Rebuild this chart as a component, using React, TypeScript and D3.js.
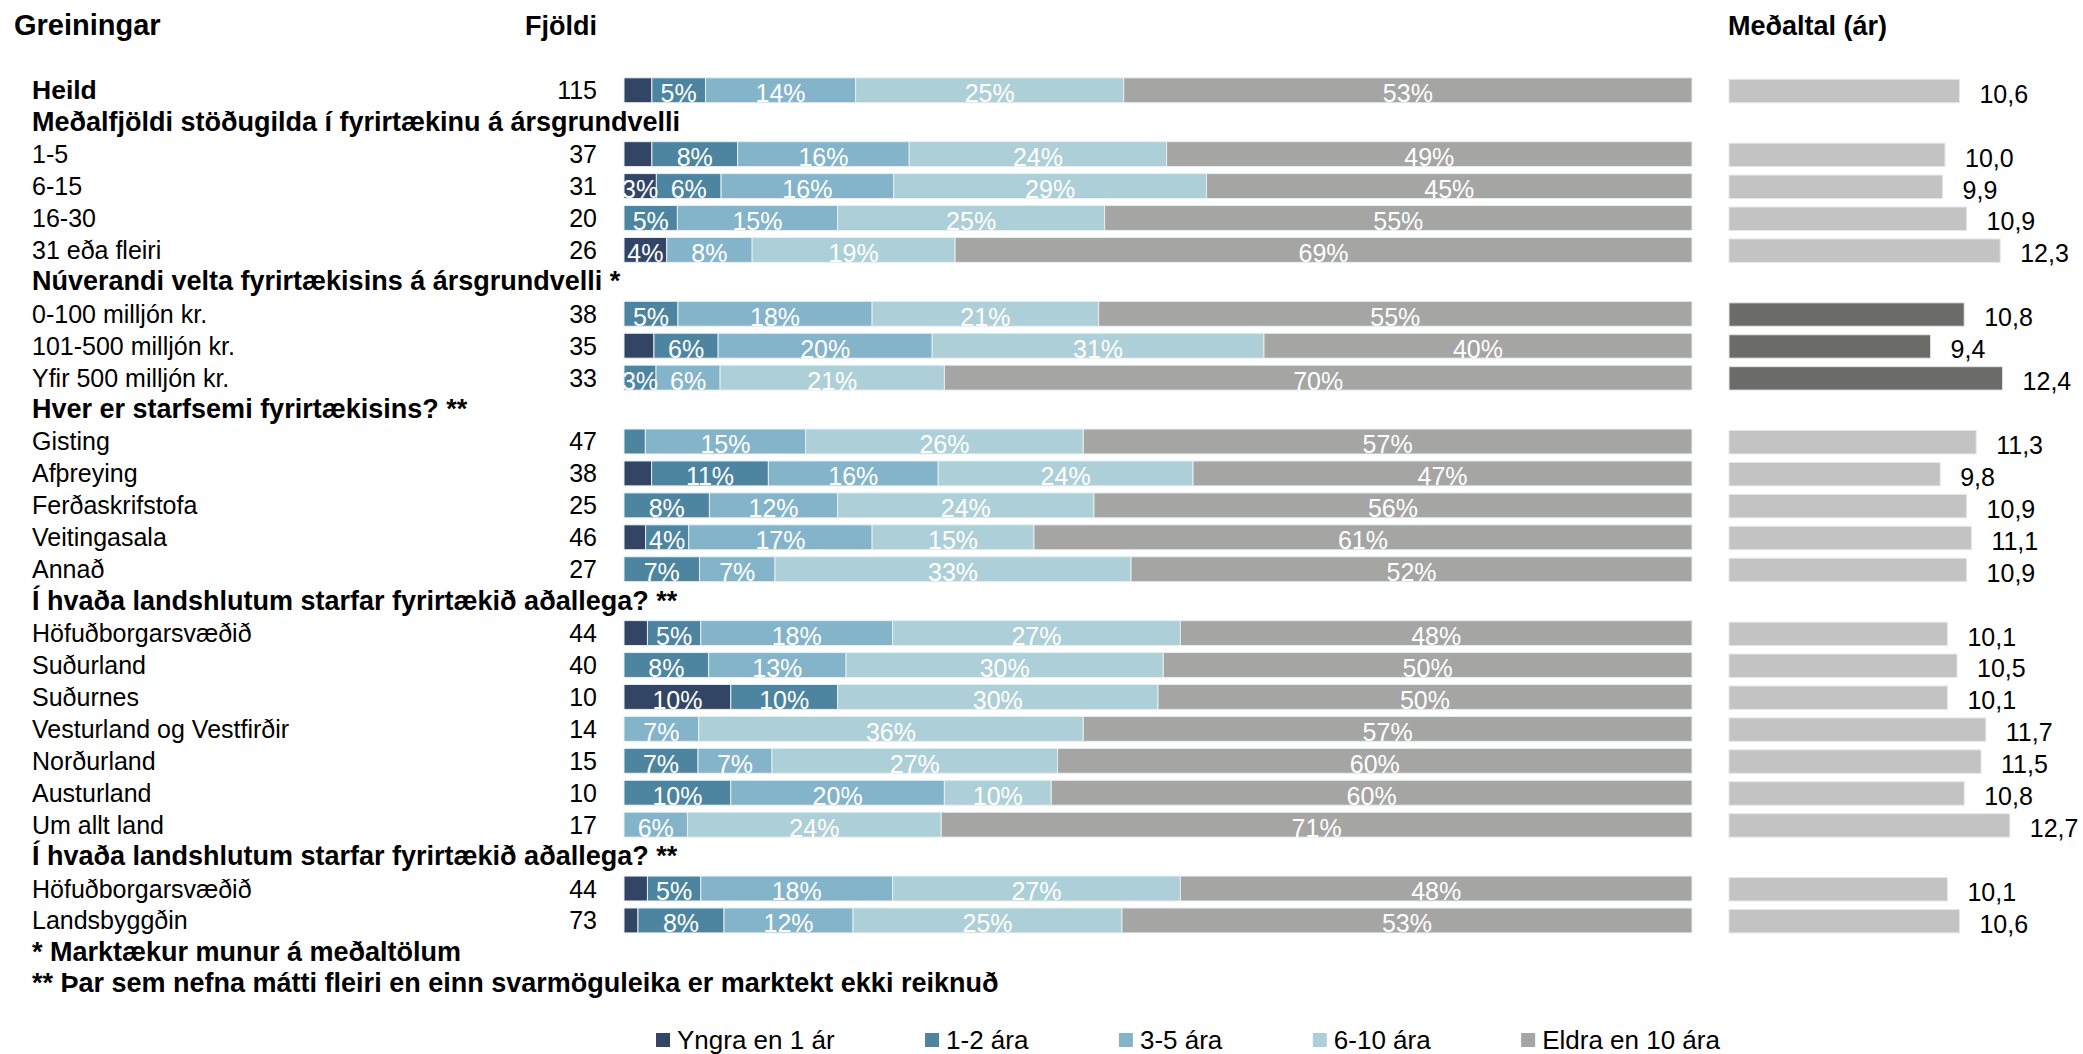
import React from 'react';
import * as d3 from 'd3';

const categories = ['Heild', '1-5', '6-15', '16-30', '31 eða fleiri', '0-100 milljón kr.', '101-500 milljón kr.', 'Yfir 500 milljón kr.', 'Gisting', 'Afþreying', 'Ferðaskrifstofa', 'Veitingasala', 'Annað', 'Höfuðborgarsvæðið', 'Suðurland', 'Suðurnes', 'Vesturland og Vestfirðir', 'Norðurland', 'Austurland', 'Um allt land', 'Höfuðborgarsvæðið', 'Landsbyggðin'];
const counts = [115, 37, 31, 20, 26, 38, 35, 33, 47, 38, 25, 46, 27, 44, 40, 10, 14, 15, 10, 17, 44, 73];
const yngra = [2.6, 2.6, 3, 0, 4, 0, 2.8, 0, 0, 2.6, 0, 2, 0, 2.2, 0, 10, 0, 0, 0, 0, 2.2, 1.3];
const ara12 = [5, 8, 6, 5, 0, 5, 6, 3, 2, 11, 8, 4, 7, 5, 8, 10, 0, 7, 10, 0, 5, 8];
const ara35 = [14, 16, 16, 15, 8, 18, 20, 6, 15, 16, 12, 17, 7, 18, 13, 0, 7, 7, 20, 6, 18, 12];
const ara610 = [25, 24, 29, 25, 19, 21, 31, 21, 26, 24, 24, 15, 33, 27, 30, 30, 36, 27, 10, 24, 27, 25];
const eldra = [53, 49, 45, 55, 69, 55, 40, 70, 57, 47, 56, 61, 52, 48, 50, 50, 57, 60, 60, 71, 48, 53];
const averages = [10.6, 10.0, 9.9, 10.9, 12.3, 10.8, 9.4, 12.4, 11.3, 9.8, 10.9, 11.1, 10.9, 10.1, 10.5, 10.1, 11.7, 11.5, 10.8, 12.7, 10.1, 10.6];
const groupHeaders = ['Meðalfjöldi stöðugilda í fyrirtækinu á ársgrundvelli', 'Núverandi velta fyrirtækisins á ársgrundvelli *', 'Hver er starfsemi fyrirtækisins? **', 'Í hvaða landshlutum starfar fyrirtækið aðallega? **', 'Í hvaða landshlutum starfar fyrirtækið aðallega? **'];
const groupSizes = [4, 3, 5, 7, 2];
const significantGroup = 1;
const seriesNames = ['Yngra en 1 ár', '1-2 ára', '3-5 ára', '6-10 ára', 'Eldra en 10 ára'];
const seriesColors = ['#324565', '#4d85a0', '#84b4ca', '#adcfd7', '#a5a5a4'];
const avgColor = '#c3c3c3';
const avgSigColor = '#6b6b69';
const footnotes = ['* Marktækur munur á meðaltölum', '** Þar sem nefna mátti fleiri en einn svarmöguleika er marktekt ekki reiknuð'];
const titles = { left: 'Greiningar', count: 'Fjöldi', avg: 'Meðaltal (ár)' };

const FONT = "'Liberation Sans', Arial, sans-serif";
const W = 2083;
const H = 1054;

type Row = { kind: 'cat'; idx: number } | { kind: 'head'; text: string };

function buildRows(): Row[] {
  const rows: Row[] = [{ kind: 'cat', idx: 0 }];
  let c = 1;
  groupSizes.forEach((n, g) => {
    rows.push({ kind: 'head', text: groupHeaders[g] });
    for (let k = 0; k < n; k++) rows.push({ kind: 'cat', idx: c++ });
  });
  return rows;
}

function measure(text: string, font: string) {
  const cv = document.createElement('canvas');
  const ctx = cv.getContext('2d')!;
  ctx.font = font;
  return ctx.measureText(text).width;
}

function groupOf(idx: number) {
  let c = 1;
  for (let g = 0; g < groupSizes.length; g++) {
    if (idx >= c && idx < c + groupSizes[g]) return g;
    c += groupSizes[g];
  }
  return -1;
}

export default function App() {
  const rows = buildRows();
  const nSlots = rows.length + footnotes.length;
  const step = 31.93;
  const y = d3
    .scaleBand<number>()
    .domain(d3.range(nSlots))
    .range([74.3, 74.3 + nSlots * step])
    .paddingInner(0.22)
    .paddingOuter(0.11);
  const bw = y.bandwidth();

  const x = d3.scaleLinear().domain([0, 1]).range([624, 1692]);
  const xa = d3.scaleLinear().domain([1, 13]).range([1729, 2017]);

  const table = categories.map((_, i) => ({
    s0: yngra[i],
    s1: ara12[i],
    s2: ara35[i],
    s3: ara610[i],
    s4: eldra[i],
  }));
  const keys = ['s0', 's1', 's2', 's3', 's4'];
  const stack = d3.stack<any>().keys(keys).offset(d3.stackOffsetExpand)(table);

  const fs = 25;
  const boldFs = 27;
  const legendFs = 26;
  const legendFont = `${legendFs}px ${FONT}`;
  let lx = 656;
  const legendItems = seriesNames.map((name, i) => {
    const item = { name, color: seriesColors[i], x: lx };
    lx += 14 + 7 + measure(name, legendFont) + 90.5;
    return item;
  });

  return (
    <svg width={W} height={H} style={{ position: 'fixed', left: 0, top: 0, background: '#fff' }} fontFamily={FONT}>
      <rect width={W} height={H} fill="#fff" />
      <text x={14} y={35} fontSize={29} fontWeight="bold">{titles.left}</text>
      <text x={597} y={35} fontSize={27} fontWeight="bold" textAnchor="end">{titles.count}</text>
      <text x={1728} y={35} fontSize={27} fontWeight="bold">{titles.avg}</text>

      {rows.map((r, ri) => {
        const top = y(ri)!;
        const cy = top + bw / 2;
        if (r.kind === 'head') {
          return (
            <text key={ri} x={32} y={cy + 8.5} fontSize={boldFs} fontWeight="bold">{r.text}</text>
          );
        }
        const i = r.idx;
        const sig = groupOf(i) === significantGroup;
        return (
          <g key={ri}>
            <text x={32} y={cy + 9} fontSize={i === 0 ? 26.5 : fs} fontWeight={i === 0 ? 'bold' : 'normal'}>{categories[i]}</text>
            <text x={597} y={cy + 9} fontSize={fs} textAnchor="end">{counts[i]}</text>
            {stack.map((s, si) => {
              const d = s[i];
              const x0 = x(d[0]);
              const x1 = x(d[1]);
              if (x1 - x0 <= 0) return null;
              return (
                <rect key={si} x={x0} y={top} width={x1 - x0} height={bw} fill={seriesColors[si]} stroke="#e8eef0" strokeWidth={1} />
              );
            })}
            {stack.map((s, si) => {
              const d = s[i];
              const v = (table[i] as any)[keys[si]] as number;
              if (v < 3) return null;
              const cx = (x(d[0]) + x(d[1])) / 2;
              return (
                <text key={'l' + si} x={cx} y={top + bw - 0.5} fontSize={25} fill="#fff" textAnchor="middle">{Math.round(v)}%</text>
              );
            })}
            <rect x={xa(1)} y={top + 1.5} width={xa(averages[i]) - xa(1)} height={bw - 1.5} fill={sig ? avgSigColor : avgColor} stroke="#e6e6e6" strokeWidth={1} />
            <text x={xa(averages[i]) + 20} y={top + bw} fontSize={fs}>{averages[i].toFixed(1).replace('.', ',')}</text>
          </g>
        );
      })}

      {footnotes.map((f, fi) => {
        const top = y(rows.length + fi)!;
        return (
          <text key={fi} x={32} y={top + bw / 2 + 9 - fi * 1} fontSize={boldFs} fontWeight="bold">{f}</text>
        );
      })}

      {legendItems.map((it, i) => (
        <g key={i}>
          <rect x={it.x} y={1033} width={14} height={14} fill={it.color} />
          <text x={it.x + 21} y={1049} fontSize={legendFs}>{it.name}</text>
        </g>
      ))}
    </svg>
  );
}
